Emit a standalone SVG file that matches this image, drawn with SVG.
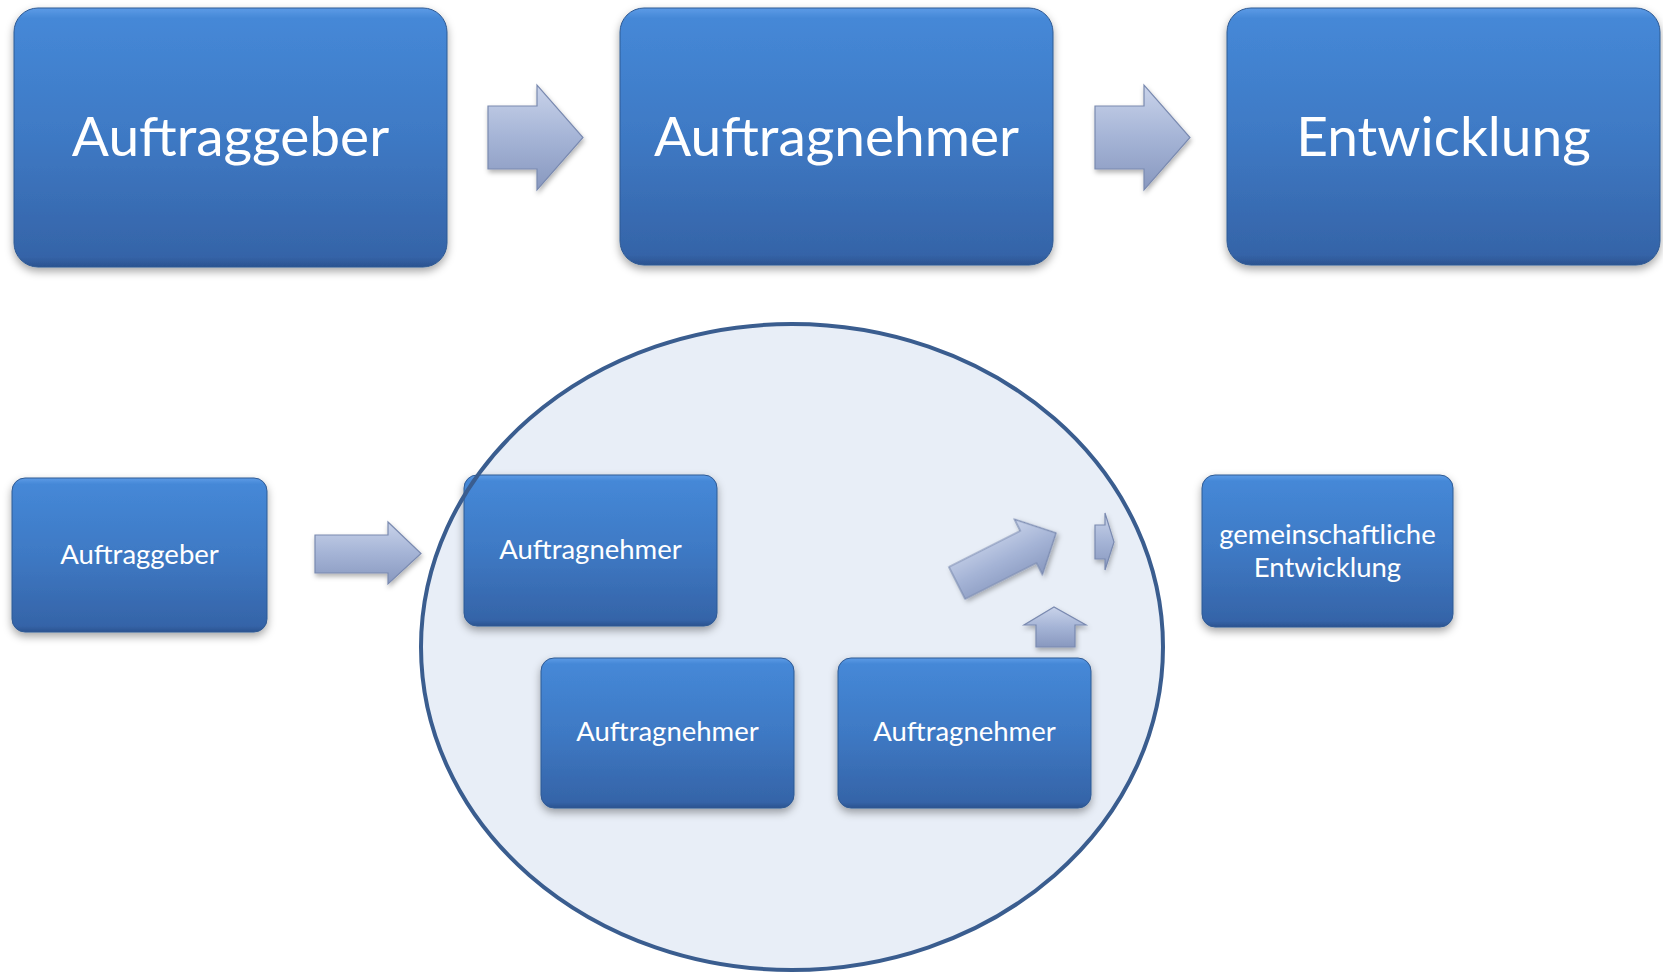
<svg xmlns="http://www.w3.org/2000/svg" width="1663" height="973" viewBox="0 0 1663 973">
<style>
.box{fill:url(#boxGrad);stroke:#2f5a93;stroke-width:1;filter:url(#shadow)}
.lbl{font-family:Lato,"Open Sans","Liberation Sans",sans-serif;fill:#ffffff;text-anchor:middle}
.big{font-size:55px}
.small{font-size:27.5px}
.arrow{fill:url(#arrGrad);stroke:#7a8ab0;stroke-width:1.2;stroke-linejoin:miter;filter:url(#ashadow)}
</style>
<defs>
<linearGradient id="boxGrad" x1="0" y1="0" x2="0" y2="1">
<stop offset="0" stop-color="#5d9be6"/>
<stop offset="0.04" stop-color="#4588d7"/>
<stop offset="0.5" stop-color="#3e79c4"/>
<stop offset="0.96" stop-color="#3564a8"/>
<stop offset="1" stop-color="#2b5390"/>
</linearGradient>
<linearGradient id="arrGrad" x1="0" y1="0" x2="0" y2="1">
<stop offset="0" stop-color="#c9d3ea"/>
<stop offset="0.5" stop-color="#a5b4d6"/>
<stop offset="1" stop-color="#8898bf"/>
</linearGradient>
<filter id="shadow" x="-10%" y="-10%" width="120%" height="130%">
<feDropShadow dx="0" dy="4" stdDeviation="4" flood-color="#000" flood-opacity="0.35"/>
</filter>
<filter id="ashadow" x="-20%" y="-20%" width="140%" height="150%">
<feDropShadow dx="1" dy="3" stdDeviation="2.5" flood-color="#000" flood-opacity="0.3"/>
</filter>
</defs>
<rect width="1663" height="973" fill="#ffffff"/>

<g id="cluster-fill">
<ellipse cx="792" cy="647" rx="371" ry="323" fill="#e8eef7"/>
</g>

<g id="node-auftraggeber-top">
<rect class="box" x="14" y="8" width="433" height="259" rx="24"/>
<text class="lbl big" x="230.5" y="156">Auftraggeber</text>
</g>
<g id="node-auftragnehmer-top">
<rect class="box" x="620" y="8" width="433" height="257" rx="24"/>
<text class="lbl big" x="836.5" y="156">Auftragnehmer</text>
</g>
<g id="node-entwicklung-top">
<rect class="box" x="1227" y="8" width="433" height="257" rx="24"/>
<text class="lbl big" x="1443.5" y="156">Entwicklung</text>
</g>

<g id="node-auftraggeber-bottom">
<rect class="box" x="12" y="478" width="255" height="154" rx="13"/>
<text class="lbl small" x="139.5" y="564">Auftraggeber</text>
</g>
<g id="node-auftragnehmer-1">
<rect class="box" x="464" y="475" width="253" height="151" rx="13"/>
<text class="lbl small" x="590.5" y="559">Auftragnehmer</text>
</g>
<g id="node-auftragnehmer-2">
<rect class="box" x="541" y="658" width="253" height="150" rx="13"/>
<text class="lbl small" x="667.5" y="741">Auftragnehmer</text>
</g>
<g id="node-auftragnehmer-3">
<rect class="box" x="838" y="658" width="253" height="150" rx="13"/>
<text class="lbl small" x="964.5" y="741">Auftragnehmer</text>
</g>
<g id="node-gemeinschaftliche-entwicklung">
<rect class="box" x="1202" y="475" width="251" height="152" rx="13"/>
<text class="lbl small" x="1327.5" y="544">gemeinschaftliche</text>
<text class="lbl small" x="1327.5" y="577">Entwicklung</text>
</g>

<g id="cluster-outline">
<ellipse cx="792" cy="647" rx="371" ry="323" fill="none" stroke="#3a5d8f" stroke-width="4"/>
</g>

<g id="connectors">
<polygon class="arrow" points="488,106 537,106 537,85 583,137.5 537,190 537,169 488,169"/>
<polygon class="arrow" points="1095,106 1144,106 1144,85 1190,137.5 1144,190 1144,169 1095,169"/>
<polygon class="arrow" points="315,535 388,535 388,522 421,553.5 388,584 388,573 315,573"/>
<polygon class="arrow" transform="translate(957,583) rotate(-26.8)" points="0,-18 80,-18 80,-31 111,0 80,31 80,18 0,18"/>
<polygon class="arrow" points="1095,525 1105,525 1105,513 1114,542 1105,570 1105,559 1095,559"/>
<polygon class="arrow" points="1036,647 1036,625 1024,625 1054,607 1086,625 1075,625 1075,647"/>
</g>
</svg>
